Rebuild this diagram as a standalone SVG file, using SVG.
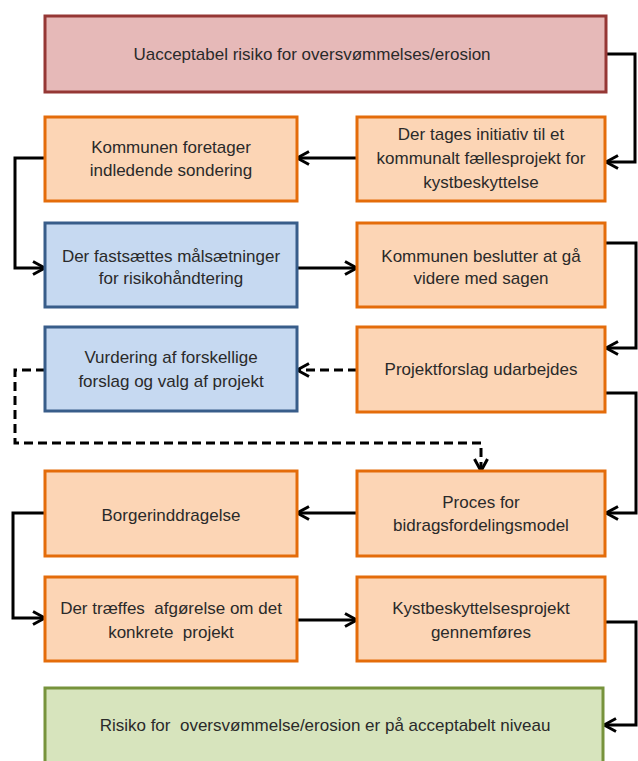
<svg xmlns="http://www.w3.org/2000/svg" width="638" height="761" viewBox="0 0 638 761">
<defs>
<marker id="arr" viewBox="0 0 16 16" refX="14" refY="8" markerWidth="16" markerHeight="16" markerUnits="userSpaceOnUse" orient="auto">
<path d="M2,1.5 L14,8 L2,14.5" fill="none" stroke="#000" stroke-width="3"/>
</marker>
<style>
.box{stroke-width:3}
.red{fill:#e6b9b8;stroke:#953735}
.org{fill:#fcd5b5;stroke:#e46c0a}
.blu{fill:#c6d9f1;stroke:#385d8a}
.grn{fill:#d7e4bd;stroke:#77933c}
text{font-family:"Liberation Sans",Arial,sans-serif;font-size:17px;fill:#2a2a2a;text-anchor:middle}
.c{fill:none;stroke:#000;stroke-width:3;marker-end:url(#arr)}
.d{stroke-dasharray:9 5}
</style>
</defs>
<rect width="638" height="761" fill="#fff"/>
<g id="connectors">
<path class="c" d="M606,54 H635 V162 H606"/>
<path class="c" d="M357,158 H297"/>
<path class="c" d="M45,158 H15 V268 H45"/>
<path class="c" d="M297,268 H357"/>
<path class="c" d="M606,243 H636 V348 H606"/>
<path class="c d" d="M357,370 H297"/>
<path class="c d" d="M45,370 H15 V443 H481 V471"/>
<path class="c" d="M606,393 H636 V513 H606"/>
<path class="c" d="M357,513 H297"/>
<path class="c" d="M45,513 H13 V618 H45"/>
<path class="c" d="M297,620 H357"/>
<path class="c" d="M605,622 H636 V725 H604"/>
</g>
<g id="n1"><rect class="box red" x="45" y="16" width="561" height="76"/><text x="312" y="60">Uacceptabel risiko for oversvømmelses/erosion</text></g>
<g id="n2"><rect class="box org" x="357" y="117" width="248" height="84"/><text x="481" y="140">Der tages initiativ til et</text><text x="481" y="164">kommunalt fællesprojekt for</text><text x="481" y="188">kystbeskyttelse</text></g>
<g id="n3"><rect class="box org" x="45" y="117" width="252" height="84"/><text x="171" y="153">Kommunen  foretager</text><text x="171" y="176">indledende sondering</text></g>
<g id="n4"><rect class="box blu" x="45" y="223" width="252" height="84"/><text x="171" y="262">Der fastsættes målsætninger</text><text x="171" y="284">for risikohåndtering</text></g>
<g id="n5"><rect class="box org" x="357" y="223" width="248" height="84"/><text x="481" y="262">Kommunen beslutter at gå</text><text x="481" y="284">videre med sagen</text></g>
<g id="n6"><rect class="box blu" x="45" y="327" width="252" height="84"/><text x="171" y="363">Vurdering af forskellige</text><text x="171" y="387">forslag og valg af projekt</text></g>
<g id="n7"><rect class="box org" x="357" y="327" width="248" height="85"/><text x="481" y="375">Projektforslag udarbejdes</text></g>
<g id="n8"><rect class="box org" x="45" y="471" width="252" height="85"/><text x="171" y="521">Borgerinddragelse</text></g>
<g id="n9"><rect class="box org" x="357" y="471" width="248" height="85"/><text x="481" y="508">Proces for</text><text x="481" y="531">bidragsfordelingsmodel</text></g>
<g id="n10"><rect class="box org" x="45" y="577" width="252" height="84"/><text x="171" y="614" xml:space="preserve">Der træffes  afgørelse om det</text><text x="171" y="638" xml:space="preserve">konkrete  projekt</text></g>
<g id="n11"><rect class="box org" x="357" y="577" width="248" height="84"/><text x="481" y="614">Kystbeskyttelsesprojekt</text><text x="481" y="638">gennemføres</text></g>
<g id="n12"><rect class="box grn" x="45" y="688" width="558" height="78"/><text x="325" y="731" xml:space="preserve">Risiko for  oversvømmelse/erosion er på acceptabelt niveau</text></g>
</svg>
